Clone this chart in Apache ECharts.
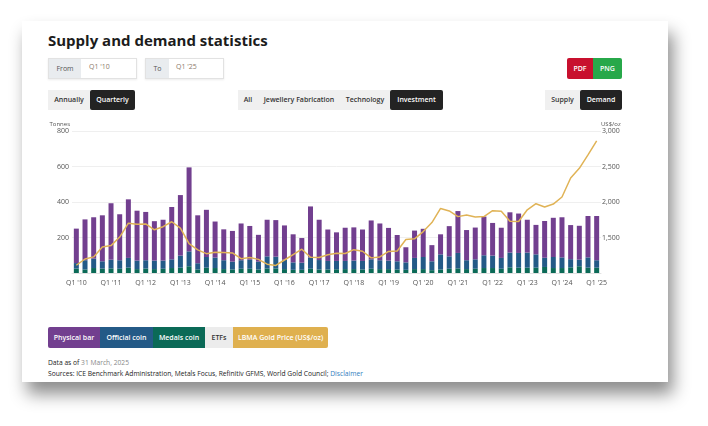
<!DOCTYPE html>
<html>
<head>
<meta charset="utf-8">
<title>Supply and demand statistics</title>
<script src="https://cdn.jsdelivr.net/npm/echarts@6/dist/echarts.min.js"></script>
<style>
	html,body{margin:0;padding:0;background:#fff;font-family:"Open Sans",sans-serif;}
	body{width:708px;height:426px;position:relative;overflow:hidden;}
	.card{position:absolute;left:22px;top:21px;width:646px;height:361px;background:#fff;
		box-shadow:5px 12px 16px rgba(0,0,0,0.45);}
	.abs{position:absolute;}
	.title{left:48px;top:29px;font-size:15px;font-weight:700;color:#1c1c1c;line-height:22px;}
	.field{top:58px;height:19px;border:1px solid #e2e2e2;background:#fff;box-shadow:0 1px 2px rgba(0,0,0,0.08);}
	.field .lab{position:absolute;left:0;top:0;bottom:0;background:#e9ecef;color:#555;font-size:7px;line-height:19px;text-align:center;}
	.field .val{position:absolute;top:3px;font-size:7px;color:#8c7b6b;}
	.btn{height:20px;line-height:20px;font-size:7px;font-weight:600;text-align:center;color:#333;background:#f0f0f0;}
	.dark{background:#232323;color:#fff;border-radius:2px;}
	.leg{top:327px;height:21px;line-height:21px;font-size:7px;font-weight:600;color:#fff;text-align:center;}
	.note{left:48px;font-size:6.7px;color:#222;white-space:nowrap;}
	#chart{position:absolute;left:0;top:110px;width:708px;height:190px;}
</style>
</head>
<body>
<div class="card"></div>
<div class="abs title">Supply and demand statistics</div>

<div class="abs field" style="left:48px;width:87px;"><div class="lab" style="width:32px;">From</div><div class="val" style="left:40px;">Q1 '10</div></div>
<div class="abs field" style="left:145px;width:77px;"><div class="lab" style="width:23px;">To</div><div class="val" style="left:30px;">Q1 '25</div></div>

<div class="abs btn" style="left:567px;top:58px;width:26px;height:21px;line-height:21px;background:#c8102e;color:#fff;border-radius:2px 0 0 2px;">PDF</div>
<div class="abs btn" style="left:593px;top:58px;width:29px;height:21px;line-height:21px;background:#27a84a;color:#fff;border-radius:0 2px 2px 0;">PNG</div>

<div class="abs btn" style="left:48px;top:90px;width:42px;">Annually</div>
<div class="abs btn dark" style="left:90px;top:90px;width:45px;">Quarterly</div>

<div class="abs btn" style="left:238px;top:90px;width:20px;">All</div>
<div class="abs btn" style="left:258px;top:90px;width:82px;">Jewellery Fabrication</div>
<div class="abs btn" style="left:340px;top:90px;width:50px;">Technology</div>
<div class="abs btn dark" style="left:390px;top:90px;width:53px;">Investment</div>

<div class="abs btn" style="left:545px;top:90px;width:35px;">Supply</div>
<div class="abs btn dark" style="left:580px;top:90px;width:42px;">Demand</div>

<div id="chart"></div>

<div class="abs leg" style="left:48px;width:52px;background:#723f8f;border-radius:2px 0 0 2px;">Physical bar</div>
<div class="abs leg" style="left:100px;width:53px;background:#245a87;">Official coin</div>
<div class="abs leg" style="left:153px;width:52px;background:#0b6a57;">Medals coin</div>
<div class="abs leg" style="left:205px;width:28px;background:#ececec;color:#333;">ETFs</div>
<div class="abs leg" style="left:233px;width:95px;background:#dfb04f;border-radius:0 2px 2px 0;">LBMA Gold Price (US$/oz)</div>

<div class="abs note" style="top:358px;">Data as of <span style="color:#888;">31 March, 2025</span></div>
<div class="abs note" style="top:369px;">Sources: ICE Benchmark Administration, Metals Focus, Refinitiv GFMS, World Gold Council; <span style="color:#2f7dbd;">Disclaimer</span></div>

<script>
// quarters Q1 '10 .. Q1 '25
var quarters = [];
for (var y = 10; y <= 25; y++) {
	for (var q = 1; q <= 4; q++) {
		if (y == 25 && q > 1) break;
		quarters.push('Q' + q + " '" + y);
	}
}

// tonnes
var physicalBar = [194,230,233,259,318,259,330,281,272,222,230,295,341,473,270,266,203,174,173,207,
	190,151,206,206,193,158,139,288,227,177,161,187,187,177,219,207,
	184,148,85,154,159,91,113,170,236,170,179,218,184,170,227,222,
	185,166,207,221,226,192,191,233,249];
var officialCoin = [31,52,53,41,49,48,55,48,47,48,46,49,68,84,35,60,59,50,44,48,
	51,44,68,66,53,42,40,63,53,48,47,46,48,48,53,50,
	48,46,42,63,68,50,85,70,87,50,53,72,70,61,83,83,
	85,75,52,62,60,46,37,58,42];
var medalsCoin = [25,20,28,25,26,24,30,22,25,22,24,28,30,38,20,30,28,22,20,24,
	24,20,26,26,22,18,18,24,20,20,21,22,22,20,24,22,
	22,20,18,22,22,16,20,24,26,22,24,28,28,24,32,30,
	30,30,34,28,28,32,38,30,30];
// US$/oz
var goldPrice = [1109,1197,1227,1367,1386,1506,1702,1688,1691,1609,1652,1722,1632,1415,1326,1272,
	1293,1288,1282,1201,1218,1192,1124,1106,1183,1260,1335,1222,1219,1257,1278,1275,
	1329,1306,1213,1226,1304,1310,1472,1481,1583,1711,1909,1874,1794,1816,1789,1795,
	1877,1871,1729,1726,1890,1976,1929,1971,2070,2338,2474,2663,2860];

var COLOR = {
	PHYSICAL:'#723f8f',
	OFFICIAL:'#245a87',
	MEDALS:'#0b6a57',
	GOLD:'#e0b356'
};

function axisLabelStyle(){
	return {color:'#555', fontSize:7, fontFamily:'Open Sans'};
}

function renderChart(){
	var myChart = echarts.init(document.getElementById('chart'));
	myChart.setOption({
		animation:false,
		grid:{left:72, right:107, top:21, bottom:27},
		xAxis:{
			type:'category',
			data:quarters,
			axisTick:{show:false},
			axisLine:{show:true, lineStyle:{color:'#e3e3e3'}},
			axisLabel:Object.assign(axisLabelStyle(), {interval:3, margin:6})
		},
		yAxis:[
			{
				type:'value', min:0, max:800, interval:200,
				name:'Tonnes', nameLocation:'end', nameGap:4,
				nameTextStyle:{color:'#555', fontSize:6, fontFamily:'Open Sans', align:'right', padding:[0,2,0,0]},
				axisLine:{show:false}, axisTick:{show:false},
				axisLabel:Object.assign(axisLabelStyle(), {showMinLabel:false, margin:3}),
				splitLine:{lineStyle:{color:'#efefef'}}
			},
			{
				type:'value', min:1000, max:3000, interval:500,
				name:'US$/oz', nameLocation:'end', nameGap:4,
				nameTextStyle:{color:'#555', fontSize:6, fontFamily:'Open Sans', align:'left'},
				axisLine:{show:false}, axisTick:{show:false},
				axisLabel:Object.assign(axisLabelStyle(), {showMinLabel:false, margin:1,
					formatter:function(v){ return v.toLocaleString('en-US'); }}),
				splitLine:{show:false}
			}
		],
		series:[
			{name:'Medals coin', type:'bar', stack:'dem', barWidth:5, itemStyle:{color:COLOR.MEDALS}, data:medalsCoin},
			{name:'Official coin', type:'bar', stack:'dem', barWidth:5, itemStyle:{color:COLOR.OFFICIAL}, data:officialCoin},
			{name:'Physical bar', type:'bar', stack:'dem', barWidth:5, itemStyle:{color:COLOR.PHYSICAL}, data:physicalBar},
			{
				name:'LBMA Gold Price (US$/oz)', type:'line', yAxisIndex:1,
				showSymbol:false, z:5,
				lineStyle:{color:COLOR.GOLD, width:1.5},
				itemStyle:{color:COLOR.GOLD},
				data:goldPrice
			}
		]
	});
}

renderChart();
</script>
</body>
</html>
